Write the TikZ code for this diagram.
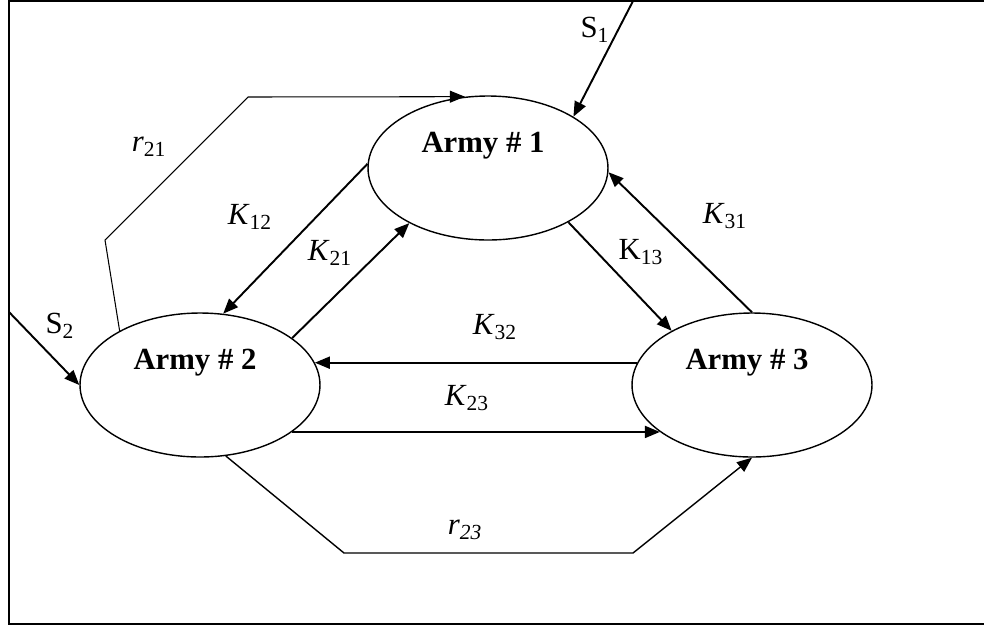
\documentclass[tikz,border=0pt]{standalone}
\usepackage{fontspec}
\setmainfont{Liberation Serif}
\usetikzlibrary{shapes.geometric,arrows.meta}
\tikzstyle{army edge}=[-{Triangle[length=0.3cm,width=0.24cm]},line width=1.1pt]
\tikzstyle{route edge}=[-{Triangle[length=0.3cm,width=0.24cm]},line width=0.8pt]
\tikzstyle{army}=[draw,ellipse,line width=0.8pt,minimum width=4.8cm,minimum height=2.88cm,inner sep=0pt]
\newcommand{\armynode}[3]{
  \node [army] (#1) at (#2) {};
  \node [xshift=-0.1cm, yshift=0.44cm] (#1t) at (#1.center) {\bfseries #3}
}
\newcommand{\ratenode}[3][]{
  \node [#1] (#2) {#3}
}

\begin{document}
\begin{tikzpicture}[x=0.02cm,y=-0.02cm,font=\fontsize{17.5}{21}\selectfont]
  \useasboundingbox (0,0) rectangle (984,627);
  \draw[line width=1.1pt] (9,1) rectangle (995,624);

        \armynode{a1}{488,168}{Army \# 1};
        \armynode{a2}{200,385}{Army \# 2};
        \armynode{a3}{752,385}{Army \# 3};
        \coordinate (s1in) at (633,1);
        \coordinate (s2in) at (9,312);

        \ratenode[at={(595,30)}]{s1}{S\textsubscript{1}};
        \ratenode[at={(60,326)}]{s2}{S\textsubscript{2}};
        \ratenode[at={(149,147)}]{r21}{\textit{r}\textsubscript{21}};
        \ratenode[at={(250,217)}]{k12}{\textit{K}\textsubscript{12}};
        \ratenode[at={(330,253)}]{k21}{\textit{K}\textsubscript{21}};
        \ratenode[at={(641,252)}]{k13}{K\textsubscript{13}};
        \ratenode[at={(725,216)}]{k31}{\textit{K}\textsubscript{31}};
        \ratenode[at={(495,327)}]{k32}{\textit{K}\textsubscript{32}};
        \ratenode[at={(467,398)}]{k23}{\textit{K}\textsubscript{23}};
        \ratenode[at={(465,530)}]{r23}{\textit{r\textsubscript{23}}};

      \draw[army edge] (s1in) -- (a1.31);
            \draw[army edge] (s2in) -- (a2.180);
                  \draw[route edge,line width=0.6pt] (a2.146) -- (105,240) -- (248,97) -- (a1.108);
                        \draw[army edge] (a1.178) -- (a2.72);
                              \draw[army edge] (a2.27) -- (a1.215);
                                    \draw[army edge] (a1.326) -- (a3.146);
                                          \draw[army edge] (a3.90) -- (a1.358);
                                                \draw[army edge] (a3.169) -- (a2.11);
                                                      \draw[army edge] (a2.333) -- (a3.207);
                                                            \draw[route edge] (a2.290) -- (344,553) -- (633,553) -- (a3.270);
\end{tikzpicture}
\end{document}
